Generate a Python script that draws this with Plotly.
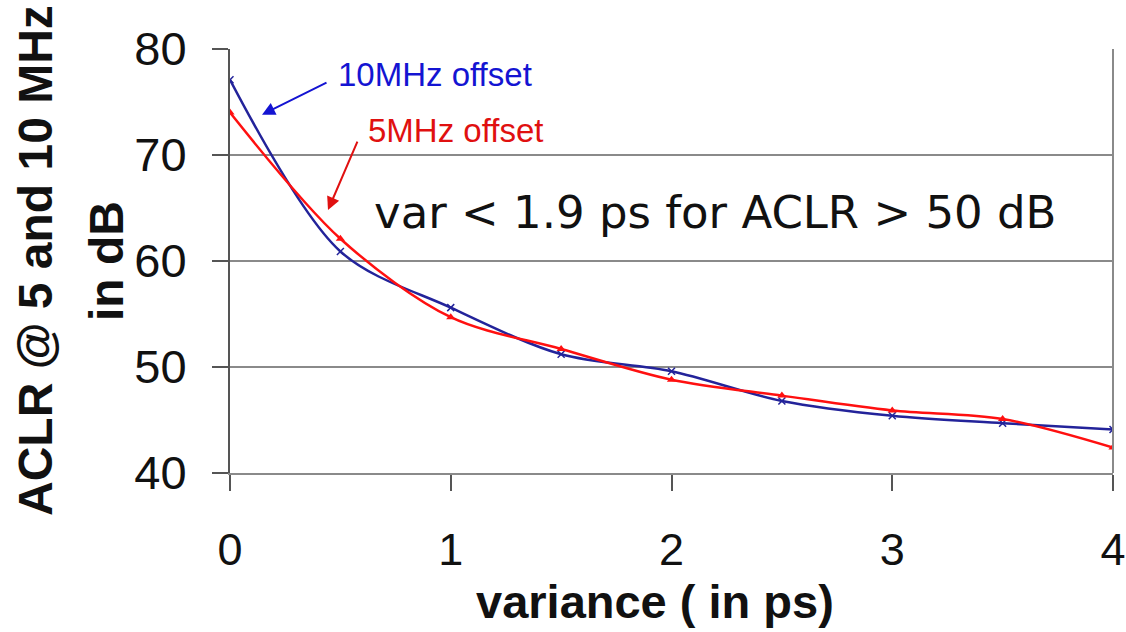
import plotly.graph_objects as go

# variance in ps
variance = [0, 0.5, 1, 1.5, 2, 2.5, 3, 3.5, 4]
# ACLR in dB at each offset
aclr_10mhz = [77.1, 60.9, 55.6, 51.2, 49.6, 46.8, 45.4, 44.7, 44.1]
aclr_5mhz = [74.0, 62.1, 54.7, 51.7, 48.8, 47.3, 45.9, 45.1, 42.4]

x_ticks = [0, 1, 2, 3, 4]
y_ticks = [40, 50, 60, 70, 80]

BLUE_LINE = "#23239a"
RED_LINE = "#ff1010"
GRID = "#8a8a8a"

fig = go.Figure()

fig.add_trace(go.Scatter(
    x=variance, y=aclr_10mhz, mode="lines+markers", name="10MHz offset",
    line=dict(color=BLUE_LINE, width=2.5, shape="spline", smoothing=0.9),
    marker=dict(symbol="x-thin", size=7, line=dict(color=BLUE_LINE, width=1.5)),
))
fig.add_trace(go.Scatter(
    x=variance, y=aclr_5mhz, mode="lines+markers", name="5MHz offset",
    line=dict(color=RED_LINE, width=2.5, shape="spline", smoothing=0.9),
    marker=dict(symbol="triangle-up", size=8, color=RED_LINE),
))

annotations = [
    # series labels with pointer arrows
    dict(x=0.48, y=77.55, xref="x", yref="y", text="10MHz offset",
         showarrow=False, xanchor="left", yanchor="middle",
         font=dict(family="Liberation Sans, Arial", size=33, color="#1414d2")),
    dict(x=0.145, y=73.8, xref="x", yref="y", ax=0.444, ay=76.9,
         axref="x", ayref="y", text="", showarrow=True, arrowhead=2,
         arrowsize=1.3, arrowwidth=2, arrowcolor="#1414d2"),
    dict(x=0.615, y=72.3, xref="x", yref="y", text="5MHz offset",
         showarrow=False, xanchor="left", yanchor="middle",
         font=dict(family="Liberation Sans, Arial", size=33, color="#e01010")),
    dict(x=0.444, y=64.8, xref="x", yref="y", ax=0.58, ay=71.4,
         axref="x", ayref="y", text="", showarrow=True, arrowhead=2,
         arrowsize=1.3, arrowwidth=2, arrowcolor="#e01010"),
    # threshold statement
    dict(x=0.645, y=64.6, xref="x", yref="y", text="var < 1.9 ps for ACLR > 50 dB",
         showarrow=False, xanchor="left", yanchor="middle",
         font=dict(family="DejaVu Sans", size=45, color="#111111")),
    # axis titles
    dict(x=(35 - 230) / 883, y=0.5, xref="paper", yref="paper",
         text="<b>ACLR @ 5 and 10 MHz</b>", textangle=-90, showarrow=False,
         xanchor="center", yanchor="middle",
         font=dict(family="Liberation Sans, Arial", size=48, color="#111111")),
    dict(x=(106 - 230) / 883, y=0.5, xref="paper", yref="paper",
         text="<b>in dB</b>", textangle=-90, showarrow=False,
         xanchor="center", yanchor="middle",
         font=dict(family="Liberation Sans, Arial", size=48, color="#111111")),
    dict(x=(655 - 230) / 883, y=-(601 - 473) / 424, xref="paper", yref="paper",
         text="<b>variance ( in ps)</b>", showarrow=False,
         xanchor="center", yanchor="middle",
         font=dict(family="Liberation Sans, Arial", size=47, color="#111111")),
]

fig.update_layout(
    width=1126, height=632,
    margin=dict(l=230, r=13, t=49, b=159, autoexpand=False),
    paper_bgcolor="white", plot_bgcolor="white",
    showlegend=False,
    annotations=annotations,
    xaxis=dict(
        range=[0, 4], tickvals=x_ticks, ticktext=[str(v) for v in x_ticks],
        showgrid=False, zeroline=False,
        showline=True, linecolor=GRID, linewidth=2, mirror=False,
        ticks="outside", ticklen=16, tickwidth=1.5, tickcolor="#555555",
        ticklabelstandoff=20,
        tickfont=dict(family="Liberation Sans, Arial", size=45, color="#111111"),
    ),
    yaxis=dict(
        range=[40, 80], tickvals=y_ticks, ticktext=[str(v) for v in y_ticks],
        showgrid=True, gridcolor=GRID, gridwidth=2, zeroline=False,
        showline=True, linecolor="#555555", linewidth=2,
        ticks="outside", ticklen=16, tickwidth=1.5, tickcolor="#555555",
        ticklabelstandoff=16,
        tickfont=dict(family="Liberation Sans, Arial", size=47, color="#111111"),
    ),
    shapes=[
        # right-hand border of the plotting area
        dict(type="line", xref="paper", yref="paper", x0=1, x1=1, y0=0, y1=1,
             line=dict(color=GRID, width=2)),
    ],
)

fig.write_html("out.html")
